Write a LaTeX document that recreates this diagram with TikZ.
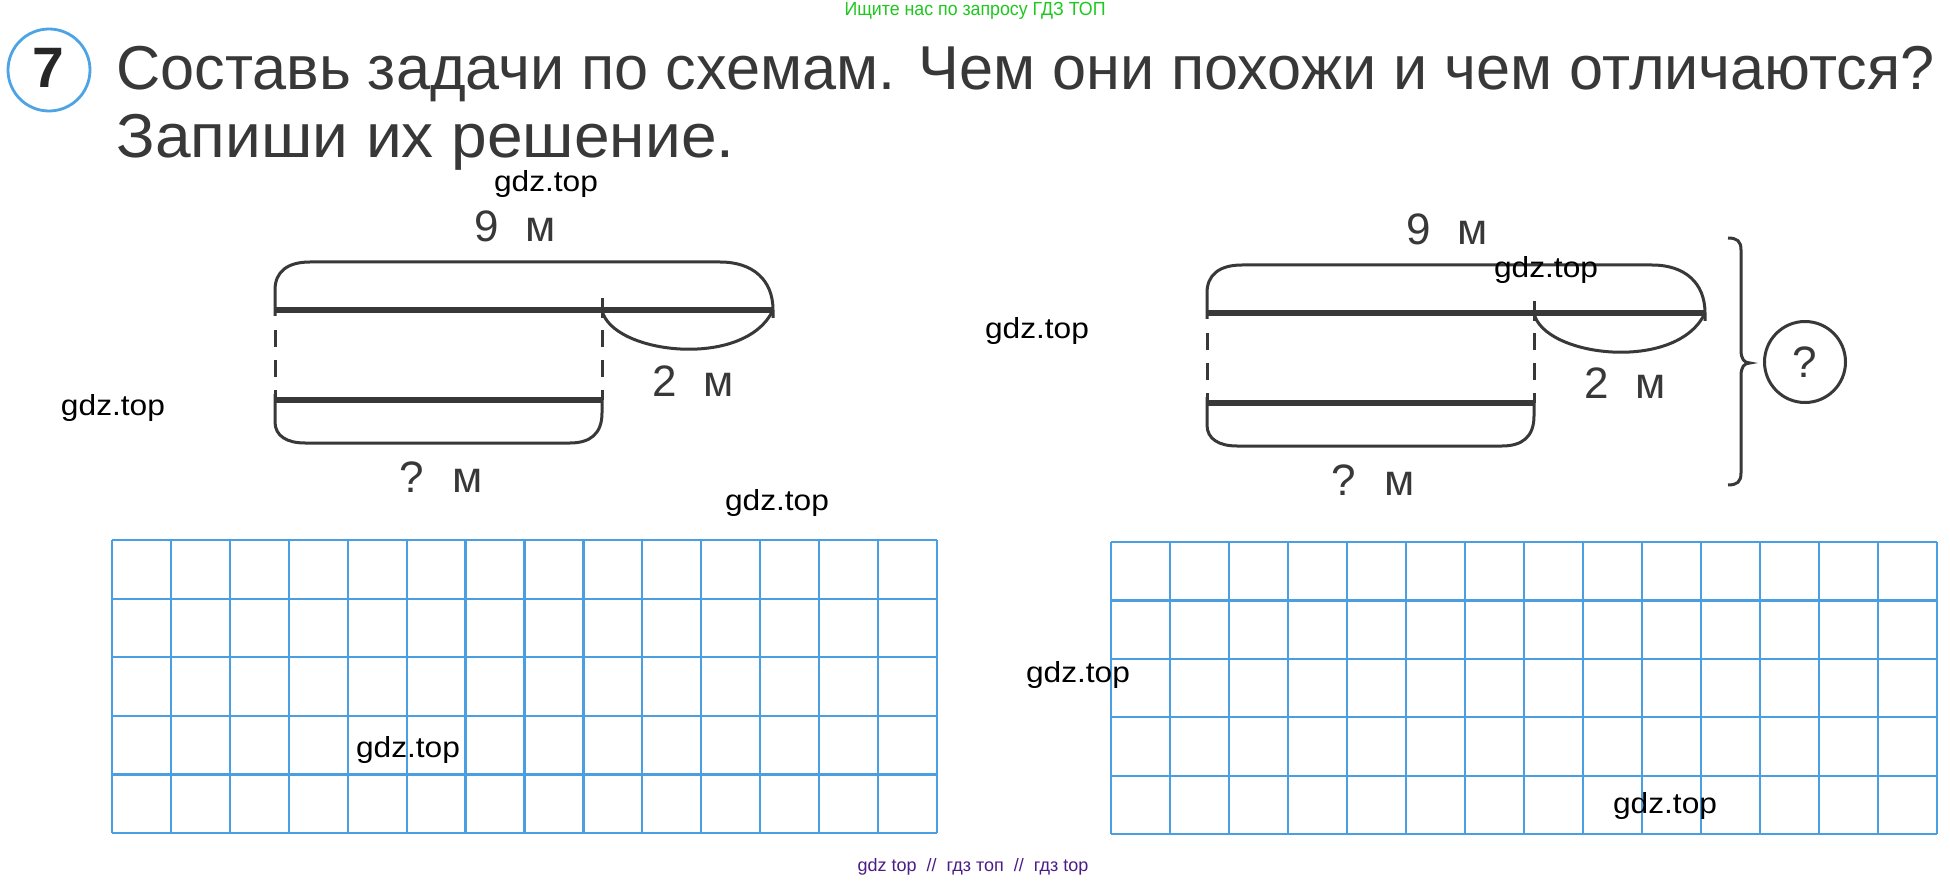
\documentclass[tikz,border=0pt]{standalone}
\usepackage{fontspec}
\setmainfont{Liberation Sans}
\definecolor{ink}{HTML}{383838}
\definecolor{gridblue}{HTML}{4A9FE3}
\definecolor{ringblue}{HTML}{4CA3E6}
\definecolor{wmgreen}{HTML}{1EC81E}
\definecolor{wmpurple}{HTML}{4B1C86}
\tikzset{
  x=0.5pt, y=-0.5pt,
  segline/.style={draw=ink, line width=3pt},
  bracket/.style={draw=ink, line width=1.5pt},
  dashline/.style={draw=ink, line width=1.5pt, dash pattern=on 8.5pt off 6.5pt},
  gridline/.style={draw=gridblue, line width=1.1pt},
  label/.style={text=ink, font=\fontsize{22}{24}\selectfont, anchor=base, inner sep=0pt},
  title/.style={text=ink, font=\fontsize{31}{36}\selectfont, anchor=base west, inner sep=0pt},
  wm/.style={text=black, font=\fontsize{14.5}{16}\selectfont, inner sep=0pt},
  schema/.pic={
    \coordinate (-a) at (0,0);
    \coordinate (-b) at (327,0);
    \coordinate (-c) at (498,0);
    \coordinate (-d) at (0,90);
    \coordinate (-e) at (327,90);
    \path[segline] (-a) -- (-c);
    \path[segline] (-d) -- (-e);
    \path[bracket] (0,6) -- (0,-20) .. controls (0,-38) and (12,-48) .. (35,-48)
       -- (445,-48) .. controls (478,-48) and (498,-30) .. (498,0) -- (498,8);
    \path[bracket] (0,84) -- (0,112) .. controls (0,126) and (12,133) .. (30,133)
       -- (295,133) .. controls (315,133) and (327,124) .. (327,103) -- (327,90);
    \path[bracket] (327,-12) -- (327,8);
    \path[bracket] (-b) .. controls (336,44) and (470,60) .. (-c);
    \path[dashline] (0,20) -- (0,90);
    \path[dashline] (327,20) -- (327,90);
    \node[label] (-nine) at (240,-68) {9\hspace{0.6em}м};
    \node[label] (-two) at (418,86) {2\hspace{0.6em}м};
    \node[label] (-q) at (166,182) {?\hspace{0.65em}м};
  }
}
\begin{document}
\begin{tikzpicture}
\useasboundingbox (0,0) rectangle (1950,882);
\fill[white] (0,0) rectangle (1950,882);

% top watermark
\node[text=wmgreen, font=\fontsize{9.5}{11}\selectfont, inner sep=0pt] (topwm) at (975,11) {\resizebox{130.5pt}{\height}{Ищите нас по запросу ГДЗ ТОП}};

% task number
\node[draw=ringblue, line width=1.4pt, circle, minimum size=41pt, inner sep=0pt] (num) at (49,70) {};
\node[text=black!85, font=\fontsize{28.5}{30}\selectfont\bfseries, anchor=base, inner sep=0pt] (numtxt) at (48,88) {7};

% title
\node[title] (t1) at (116,90) {\resizebox{909pt}{\height}{Составь задачи по схемам. Чем они похожи и чем отличаются?}};
\node[title] (t2) at (116,158) {\resizebox{309pt}{\height}{Запиши их решение.}};

% schemes
\pic (s1) at (275,310) {schema};
\pic (s2) at (1207,313) {schema};

% curly brace and circle
\path[bracket] (1728,238) .. controls (1737,238) and (1741,241) .. (1741,250)
  -- (1741,350) .. controls (1741,359) and (1744,363) .. (1750,363)
  .. controls (1744,363) and (1741,367) .. (1741,376)
  -- (1741,473) .. controls (1741,482) and (1737,485) .. (1728,485);
\node[draw=ink, line width=1.5pt, circle, minimum size=40.5pt, inner sep=0pt,
      text=ink, font=\fontsize{22}{24}\selectfont] (qc) at (1805,362) {?};

% grids
\foreach \i in {0,...,14} {
  \draw[gridline] ({112+\i*825/14},540) -- ({112+\i*825/14},833);
  \draw[gridline] ({1111+\i*826/14},542) -- ({1111+\i*826/14},834);
}
\foreach \j in {0,...,5} {
  \draw[gridline] (112,{540+\j*293/5}) -- (937,{540+\j*293/5});
  \draw[gridline] (1111,{542+\j*292/5}) -- (1937,{542+\j*292/5});
}

% watermarks
\node[wm] (w1) at (546,184) {\resizebox{52pt}{\height}{gdz.top}};
\node[wm] (w2) at (1546,270) {\resizebox{52pt}{\height}{gdz.top}};
\node[wm] (w3) at (1037,331) {\resizebox{52pt}{\height}{gdz.top}};
\node[wm] (w4) at (113,408) {\resizebox{52pt}{\height}{gdz.top}};
\node[wm] (w5) at (777,503) {\resizebox{52pt}{\height}{gdz.top}};
\node[wm] (w6) at (1078,675) {\resizebox{52pt}{\height}{gdz.top}};
\node[wm] (w7) at (408,750) {\resizebox{52pt}{\height}{gdz.top}};
\node[wm] (w8) at (1665,806) {\resizebox{52pt}{\height}{gdz.top}};

% bottom watermark
\node[text=wmpurple, font=\fontsize{9}{10}\selectfont, inner sep=0pt] (botwm) at (973,867) {gdz top\ \ //\ \ гдз топ\ \ //\ \ гдз top};
\end{tikzpicture}
\end{document}
